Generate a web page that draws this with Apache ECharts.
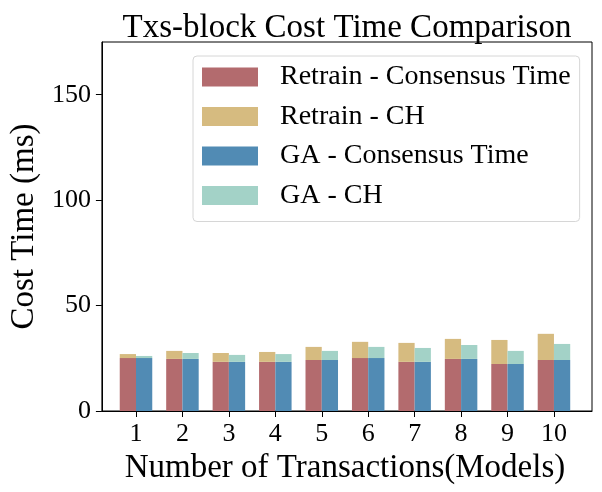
<!DOCTYPE html>
<html>
<head>
<meta charset="utf-8">
<script src="https://cdn.jsdelivr.net/npm/echarts@6/dist/echarts.min.js"></script>
<style>
  html, body { margin: 0; padding: 0; background: #fff; }
  #chart { width: 602px; height: 492px; }
</style>
</head>
<body>
<div id="chart"></div>
<script>
// Data
const categories = ['1', '2', '3', '4', '5', '6', '7', '8', '9', '10'];
const retrainConsensus = [25.1, 24.7, 23.3, 23.3, 24.2, 25.1, 23.3, 24.7, 22.3, 24.2];
const retrainCH = [1.9, 3.8, 4.2, 4.7, 6.2, 7.7, 9.0, 9.5, 11.4, 12.4];
const gaConsensus = [25.1, 24.7, 23.3, 23.3, 24.2, 25.1, 23.3, 24.7, 22.3, 24.2];
const gaCH = [1.0, 2.8, 3.3, 3.7, 4.3, 5.3, 6.6, 6.6, 6.2, 7.6];
const yTicks = [0, 50, 100, 150];
const yMax = 175;

const colors = ['#b36b6e', '#d6bb80', '#518bb4', '#a3d2c7'];
const serif = '"Liberation Serif", "Times New Roman", serif';

// frame box spans the full plot area, bars sit in an inner grid so that
// the category spacing matches the original's margins
const frame = { left: 97, right: 10, top: 42, bottom: 81 };
const bandPx = 46.44;

function barSeries(name, values, stack, color) {
    return {
        name: name,
        type: 'bar',
        xAxisIndex: 1,
        yAxisIndex: 1,
        stack: stack,
        data: values,
        barWidth: bandPx * 0.35,
        barGap: '0%',
        itemStyle: { color: color },
        emphasis: { disabled: true }
    };
}

const chart = echarts.init(document.getElementById('chart'));

chart.setOption({
    animation: false,
    backgroundColor: '#fff',
    title: {
        text: 'Txs-block Cost Time Comparison',
        left: 342,
        textAlign: 'center',
        top: 7,
        textStyle: { fontFamily: serif, fontSize: 33, fontWeight: 'normal', color: '#000' }
    },
    legend: {
        orient: 'vertical',
        left: 193,
        top: 56,
        padding: [7, 9, 12, 9],
        itemWidth: 56,
        itemHeight: 19,
        itemGap: 11.5,
        borderColor: '#d6d6d6',
        borderWidth: 1,
        borderRadius: 4,
        backgroundColor: 'rgba(255,255,255,0.8)',
        icon: 'rect',
        textStyle: { fontFamily: serif, fontSize: 28, color: '#000', padding: [0, 0, 0, 17] },
        data: ['Retrain - Consensus Time', 'Retrain - CH', 'GA - Consensus Time', 'GA - CH']
    },
    grid: [
        {
            left: frame.left, right: frame.right, top: frame.top, bottom: frame.bottom,
            show: true, borderColor: '#000', borderWidth: 1
        },
        {
            left: 136 - bandPx / 2, width: bandPx * 10, top: frame.top, bottom: frame.bottom
        }
    ],
    xAxis: [
        {
            gridIndex: 0,
            type: 'value',
            min: 0, max: 1,
            axisLine: { show: true, lineStyle: { color: '#000', width: 1 } },
            axisTick: { show: false },
            axisLabel: { show: false },
            splitLine: { show: false }
        },
        {
            gridIndex: 1,
            type: 'category',
            data: categories,
            name: 'Number of Transactions(Models)',
            nameLocation: 'middle',
            nameGap: 31,
            nameTextStyle: { fontFamily: serif, fontSize: 33, color: '#000' },
            axisLine: { show: false },
            axisTick: { show: true, alignWithLabel: true, length: 6, lineStyle: { color: '#000' } },
            axisLabel: { margin: 10, fontFamily: serif, fontSize: 26, color: '#000' },
            splitLine: { show: false }
        }
    ],
    yAxis: [
        {
            gridIndex: 0,
            type: 'value',
            min: 0,
            max: yMax,
            interval: 50,
            name: 'Cost Time (ms)',
            nameLocation: 'middle',
            nameGap: 55,
            nameTextStyle: { fontFamily: serif, fontSize: 33, color: '#000' },
            splitLine: { show: false },
            axisLine: { show: true, lineStyle: { color: '#000', width: 1 } },
            axisTick: { show: true, customValues: yTicks, length: 6, lineStyle: { color: '#000' } },
            axisLabel: { customValues: yTicks, margin: 11, fontFamily: serif, fontSize: 26, color: '#000' }
        },
        {
            gridIndex: 1,
            type: 'value',
            min: 0,
            max: yMax,
            show: false,
            splitLine: { show: false }
        }
    ],
    series: [
        barSeries('Retrain - Consensus Time', retrainConsensus, 'retrain', colors[0]),
        barSeries('Retrain - CH', retrainCH, 'retrain', colors[1]),
        barSeries('GA - Consensus Time', gaConsensus, 'ga', colors[2]),
        barSeries('GA - CH', gaCH, 'ga', colors[3])
    ]
});
</script>
</body>
</html>
